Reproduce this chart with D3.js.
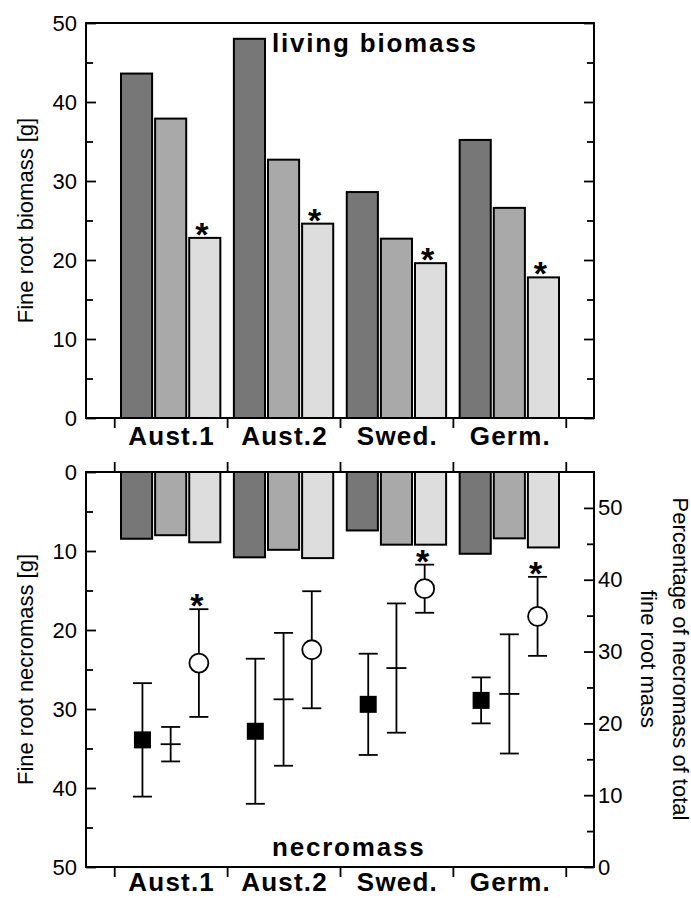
<!DOCTYPE html>
<html>
<head>
<meta charset="utf-8">
<script src="https://cdn.jsdelivr.net/npm/d3@7"></script>
<style>
  body { margin: 0; background: #fff; }
  svg { display: block; }
  text { font-family: "Liberation Sans", Arial, sans-serif; }
</style>
</head>
<body>
<svg id="chart" width="691" height="898"></svg>
<script>
// Sites
const sites = ["Aust.1", "Aust.2", "Swed.", "Germ."];
const treatments = ["t1", "t2", "t3"];

// Living fine root biomass [g] per treatment
const livingT1 = [43.6, 48.0, 28.6, 35.2];
const livingT2 = [37.9, 32.7, 22.7, 26.6];
const livingT3 = [22.8, 24.6, 19.6, 17.8];
const livingSig = [true, true, true, true]; // significance marks on treatment 3

// Fine root necromass [g] per treatment
const necroT1 = [8.45, 10.8, 7.4, 10.35];
const necroT2 = [8.0, 9.85, 9.2, 8.4];
const necroT3 = [8.9, 10.9, 9.2, 9.55];

// Percentage of necromass of total fine root mass: mean and error
const pctT1 = [17.7, 18.9, 22.65, 23.2];
const pctT1Err = [7.9, 10.1, 7.05, 3.2];
const pctT2 = [17.1, 23.35, 27.7, 24.1];
const pctT2Err = [2.4, 9.25, 9.0, 8.3];
const pctT3 = [28.4, 30.25, 38.75, 34.9];
const pctT3Err = [7.5, 8.15, 3.35, 5.5];
const pctSig = [true, false, true, true]; // significance marks on treatment 3

// Axis ticks
const majorTicks = [0, 10, 20, 30, 40, 50];
const minorTicks = [5, 15, 25, 35, 45];
const groupTicks = [0, 1, 2, 3, 4];

const fills = ["#777777", "#a9a9a9", "#dddddd"];
const FONT = "22px";

const svg = d3.select("#chart");

// Shared horizontal scale: site i occupies [i, i+1]
const x = d3.scaleLinear().domain([-0.25, 4.25]).range([86, 594]);
const band = i => d3.scaleBand().domain(treatments)
  .range([x(i + 0.06), x(i + 0.94)]).paddingInner(0.088);

function styleAxis(g) {
  g.select(".domain").remove();
  g.selectAll(".tick line").attr("stroke", "#000").attr("stroke-width", 1.8);
  g.selectAll(".tick text").attr("fill", "#000").style("font-size", FONT)
    .style("font-family", '"Liberation Sans", Arial, sans-serif');
}

function frame(y0, y1) {
  svg.append("rect")
    .attr("x", x.range()[0]).attr("y", y1)
    .attr("width", x.range()[1] - x.range()[0]).attr("height", y0 - y1)
    .attr("fill", "none").attr("stroke", "#000").attr("stroke-width", 2);
}

function categoryLabels(yPos) {
  svg.append("g").selectAll("text").data(sites).join("text")
    .attr("x", (d, i) => x(i + 0.5) + 1)
    .attr("y", yPos)
    .attr("text-anchor", "middle")
    .style("font-size", "26px").style("font-weight", "bold")
    .style("letter-spacing", "1.2px")
    .text(d => d);
}

function asterisk(cx, glyphBottom) {
  svg.append("text")
    .attr("x", cx).attr("y", glyphBottom + 13)
    .attr("text-anchor", "middle")
    .style("font-size", "34px").style("font-weight", "bold")
    .text("*");
}

// ---------- Living biomass panel ----------
const yTop = d3.scaleLinear().domain([0, 50]).range([418, 23]);
const living = [livingT1, livingT2, livingT3];

const gLiving = svg.append("g");
sites.forEach((s, i) => {
  const b = band(i);
  treatments.forEach((t, k) => {
    const v = living[k][i];
    gLiving.append("rect")
      .attr("x", b(t)).attr("y", yTop(v))
      .attr("width", b.bandwidth()).attr("height", yTop(0) - yTop(v))
      .attr("fill", fills[k]).attr("stroke", "#000").attr("stroke-width", 2);
  });
});

svg.append("g").attr("transform", `translate(${x.range()[0]},0)`)
  .call(d3.axisLeft(yTop).tickValues(majorTicks).tickSize(-10).tickSizeOuter(0).tickPadding(9))
  .call(styleAxis);
svg.append("g").attr("transform", `translate(${x.range()[0]},0)`)
  .call(d3.axisLeft(yTop).tickValues(minorTicks).tickSize(-7).tickFormat(""))
  .call(styleAxis);
svg.append("g").attr("transform", `translate(${x.range()[1]},0)`)
  .call(d3.axisRight(yTop).tickValues(majorTicks).tickSize(-10).tickFormat(""))
  .call(styleAxis);
svg.append("g").attr("transform", `translate(${x.range()[1]},0)`)
  .call(d3.axisRight(yTop).tickValues(minorTicks).tickSize(-7).tickFormat(""))
  .call(styleAxis);
svg.append("g").attr("transform", `translate(0,${yTop(0)})`)
  .call(d3.axisBottom(x).tickValues(groupTicks).tickSize(10).tickFormat(""))
  .call(styleAxis);

frame(yTop(0), yTop(50));
categoryLabels(444.5);

sites.forEach((s, i) => {
  if (livingSig[i]) {
    const b = band(i);
    asterisk(b("t3") + b.bandwidth() / 2 - 3, yTop(livingT3[i]) - 5);
  }
});

svg.append("text")
  .attr("x", 272).attr("y", 52)
  .style("font-size", "26px").style("font-weight", "bold")
  .style("letter-spacing", "1.8px")
  .text("living biomass");

svg.append("text")
  .attr("transform", `translate(32.5,${(yTop(0) + yTop(50)) / 2}) rotate(-90)`)
  .attr("text-anchor", "middle")
  .style("font-size", FONT)
  .text("Fine root biomass [g]");

// ---------- Necromass panel ----------
const yNec = d3.scaleLinear().domain([0, 50]).range([472, 867]);
const yPct = d3.scaleLinear().domain([0, 55]).range([867, 472]);
const necro = [necroT1, necroT2, necroT3];

const gNec = svg.append("g");
sites.forEach((s, i) => {
  const b = band(i);
  treatments.forEach((t, k) => {
    const v = necro[k][i];
    gNec.append("rect")
      .attr("x", b(t)).attr("y", yNec(0))
      .attr("width", b.bandwidth()).attr("height", yNec(v) - yNec(0))
      .attr("fill", fills[k]).attr("stroke", "#000").attr("stroke-width", 2);
  });
});

svg.append("g").attr("transform", `translate(${x.range()[0]},0)`)
  .call(d3.axisLeft(yNec).tickValues(majorTicks).tickSize(-10).tickSizeOuter(0).tickPadding(9))
  .call(styleAxis);
svg.append("g").attr("transform", `translate(${x.range()[0]},0)`)
  .call(d3.axisLeft(yNec).tickValues(minorTicks).tickSize(-7).tickFormat(""))
  .call(styleAxis);
svg.append("g").attr("transform", `translate(${x.range()[1]},0)`)
  .call(d3.axisRight(yPct).tickValues(majorTicks).tickSize(-10).tickSizeOuter(0).tickPadding(4))
  .call(styleAxis);
svg.append("g").attr("transform", `translate(${x.range()[1]},0)`)
  .call(d3.axisRight(yPct).tickValues(minorTicks).tickSize(-7).tickFormat(""))
  .call(styleAxis);
svg.append("g").attr("transform", `translate(0,${yNec(0)})`)
  .call(d3.axisTop(x).tickValues(groupTicks).tickSize(10).tickFormat(""))
  .call(styleAxis);
svg.append("g").attr("transform", `translate(0,${yNec(50)})`)
  .call(d3.axisBottom(x).tickValues(groupTicks).tickSize(10).tickFormat(""))
  .call(styleAxis);

frame(yNec(50), yNec(0));
categoryLabels(891);

// Percentage series with error bars
const pctSeries = [
  { mean: pctT1, err: pctT1Err, offset: 0.25, marker: "square" },
  { mean: pctT2, err: pctT2Err, offset: 0.5, marker: "cross" },
  { mean: pctT3, err: pctT3Err, offset: 0.75, marker: "circle" }
];
const gPct = svg.append("g").attr("stroke", "#000").attr("stroke-width", 1.8);
const CAP = 9.5;
pctSeries.forEach(ser => {
  sites.forEach((s, i) => {
    const cx = x(i + ser.offset);
    const m = ser.mean[i], e = ser.err[i];
    gPct.append("line").attr("x1", cx).attr("x2", cx)
      .attr("y1", yPct(m - e)).attr("y2", yPct(m + e));
    gPct.append("line").attr("x1", cx - CAP).attr("x2", cx + CAP)
      .attr("y1", yPct(m + e)).attr("y2", yPct(m + e));
    gPct.append("line").attr("x1", cx - CAP).attr("x2", cx + CAP)
      .attr("y1", yPct(m - e)).attr("y2", yPct(m - e));
    if (ser.marker === "square") {
      gPct.append("rect").attr("x", cx - 8.5).attr("y", yPct(m) - 8.5)
        .attr("width", 17).attr("height", 17).attr("fill", "#000").attr("stroke", "none");
    } else if (ser.marker === "cross") {
      gPct.append("line").attr("x1", cx - 10).attr("x2", cx + 10)
        .attr("y1", yPct(m)).attr("y2", yPct(m));
    } else {
      gPct.append("circle").attr("cx", cx).attr("cy", yPct(m)).attr("r", 9.5)
        .attr("fill", "#fff");
    }
  });
});

sites.forEach((s, i) => {
  if (pctSig[i]) asterisk(x(i + 0.75) - 2, yPct(pctT3[i] + pctT3Err[i]) - 5);
});

svg.append("text")
  .attr("x", 272).attr("y", 856)
  .style("font-size", "26px").style("font-weight", "bold")
  .style("letter-spacing", "1.8px")
  .text("necromass");

svg.append("text")
  .attr("transform", `translate(32.5,${(yNec(0) + yNec(50)) / 2}) rotate(-90)`)
  .attr("text-anchor", "middle")
  .style("font-size", FONT)
  .text("Fine root necromass [g]");

const rightLabel = svg.append("g")
  .attr("transform", `translate(0,659)`);
[["Percentage of necromass of total", 672.5], ["fine root mass", 640.5]].forEach(([t, bx]) => {
  rightLabel.append("text")
    .attr("transform", `translate(${bx},0) rotate(90)`)
    .attr("text-anchor", "middle")
    .style("font-size", FONT)
    .text(t);
});
</script>
</body>
</html>
